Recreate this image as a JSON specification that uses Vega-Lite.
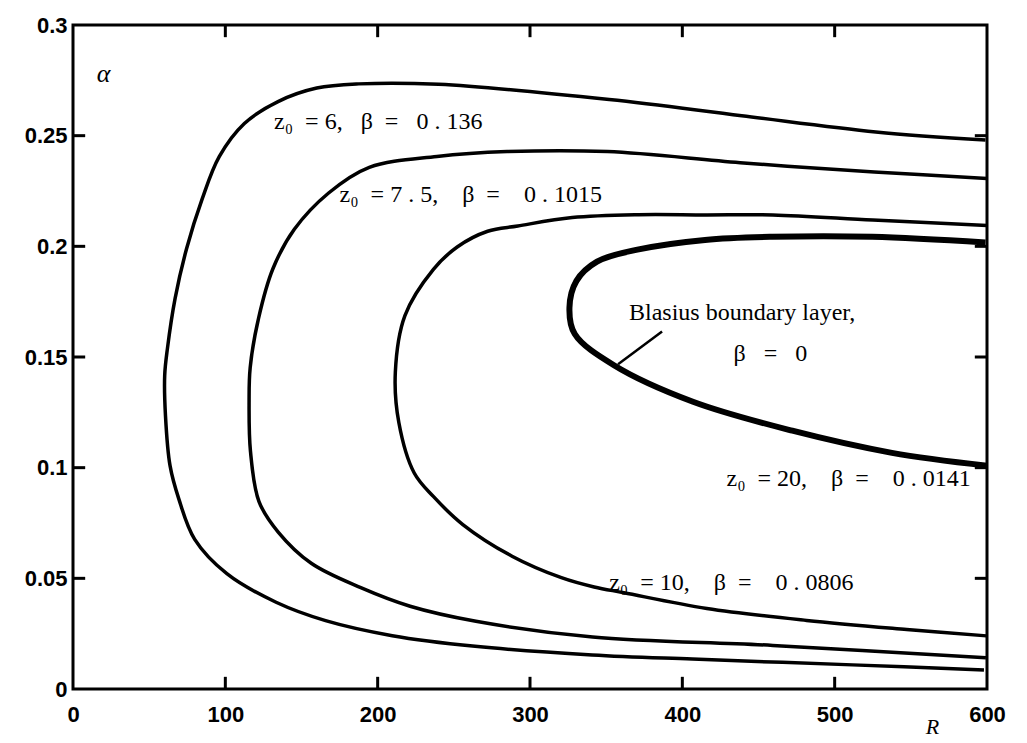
{
  "$schema": "https://vega.github.io/schema/vega-lite/v6.json",
  "width": 914,
  "height": 664,
  "autosize": {"type": "none"},
  "padding": {"left": 73, "top": 25, "right": 40, "bottom": 54},
  "background": "white",
  "config": {
    "view": {"stroke": "black", "strokeWidth": 3},
    "axis": {
      "domain": false,
      "grid": false,
      "ticks": false,
      "labelColor": "black",
      "labelFont": "Liberation Sans",
      "labelFontWeight": "bold",
      "labelFontSize": 22,
      "labelFlush": false,
      "labelOverlap": false
    }
  },
  "datasets": {
    "curves": [
      {"curve": "z6", "i": 1, "R": 599, "alpha": 0.248},
      {"curve": "z6", "i": 2, "R": 527, "alpha": 0.2517},
      {"curve": "z6", "i": 3, "R": 439, "alpha": 0.259},
      {"curve": "z6", "i": 4, "R": 352, "alpha": 0.2663},
      {"curve": "z6", "i": 5, "R": 240, "alpha": 0.2732},
      {"curve": "z6", "i": 6, "R": 187.6, "alpha": 0.2734},
      {"curve": "z6", "i": 7, "R": 160, "alpha": 0.2715},
      {"curve": "z6", "i": 8, "R": 134.6, "alpha": 0.2654},
      {"curve": "z6", "i": 9, "R": 112.5, "alpha": 0.2555},
      {"curve": "z6", "i": 10, "R": 96, "alpha": 0.2405},
      {"curve": "z6", "i": 11, "R": 84.7, "alpha": 0.2212},
      {"curve": "z6", "i": 12, "R": 74.5, "alpha": 0.1988},
      {"curve": "z6", "i": 13, "R": 67, "alpha": 0.1764},
      {"curve": "z6", "i": 14, "R": 62, "alpha": 0.1539},
      {"curve": "z6", "i": 15, "R": 60.2, "alpha": 0.1417},
      {"curve": "z6", "i": 16, "R": 60.7, "alpha": 0.1236},
      {"curve": "z6", "i": 17, "R": 63.7, "alpha": 0.1009},
      {"curve": "z6", "i": 18, "R": 69.5, "alpha": 0.0858},
      {"curve": "z6", "i": 19, "R": 79.9, "alpha": 0.0676},
      {"curve": "z6", "i": 20, "R": 101, "alpha": 0.0521},
      {"curve": "z6", "i": 21, "R": 133.3, "alpha": 0.0392},
      {"curve": "z6", "i": 22, "R": 165.8, "alpha": 0.0309},
      {"curve": "z6", "i": 23, "R": 209.6, "alpha": 0.0241},
      {"curve": "z6", "i": 24, "R": 264, "alpha": 0.0193},
      {"curve": "z6", "i": 25, "R": 340.8, "alpha": 0.0154},
      {"curve": "z6", "i": 26, "R": 406.6, "alpha": 0.0135},
      {"curve": "z6", "i": 27, "R": 511.7, "alpha": 0.0109},
      {"curve": "z6", "i": 28, "R": 598, "alpha": 0.0086},
      {"curve": "z7.5", "i": 1, "R": 600, "alpha": 0.2307},
      {"curve": "z7.5", "i": 2, "R": 526, "alpha": 0.2336},
      {"curve": "z7.5", "i": 3, "R": 438, "alpha": 0.2378},
      {"curve": "z7.5", "i": 4, "R": 350.8, "alpha": 0.2428},
      {"curve": "z7.5", "i": 5, "R": 285, "alpha": 0.2428},
      {"curve": "z7.5", "i": 6, "R": 238.9, "alpha": 0.2406},
      {"curve": "z7.5", "i": 7, "R": 194.5, "alpha": 0.2357},
      {"curve": "z7.5", "i": 8, "R": 167.8, "alpha": 0.2241},
      {"curve": "z7.5", "i": 9, "R": 145.3, "alpha": 0.2077},
      {"curve": "z7.5", "i": 10, "R": 131.3, "alpha": 0.19},
      {"curve": "z7.5", "i": 11, "R": 121.8, "alpha": 0.1675},
      {"curve": "z7.5", "i": 12, "R": 116.3, "alpha": 0.1451},
      {"curve": "z7.5", "i": 13, "R": 115.6, "alpha": 0.1301},
      {"curve": "z7.5", "i": 14, "R": 116.5, "alpha": 0.1074},
      {"curve": "z7.5", "i": 15, "R": 122.1, "alpha": 0.0847},
      {"curve": "z7.5", "i": 16, "R": 134.7, "alpha": 0.0709},
      {"curve": "z7.5", "i": 17, "R": 156.4, "alpha": 0.0568},
      {"curve": "z7.5", "i": 18, "R": 188.9, "alpha": 0.0458},
      {"curve": "z7.5", "i": 19, "R": 221.3, "alpha": 0.0374},
      {"curve": "z7.5", "i": 20, "R": 264.5, "alpha": 0.0306},
      {"curve": "z7.5", "i": 21, "R": 341.1, "alpha": 0.0235},
      {"curve": "z7.5", "i": 22, "R": 459.4, "alpha": 0.0197},
      {"curve": "z7.5", "i": 23, "R": 599.3, "alpha": 0.0141},
      {"curve": "z10", "i": 1, "R": 600, "alpha": 0.2094},
      {"curve": "z10", "i": 2, "R": 525.1, "alpha": 0.2119},
      {"curve": "z10", "i": 3, "R": 459.4, "alpha": 0.2142},
      {"curve": "z10", "i": 4, "R": 415.4, "alpha": 0.2142},
      {"curve": "z10", "i": 5, "R": 371.2, "alpha": 0.2143},
      {"curve": "z10", "i": 6, "R": 327.7, "alpha": 0.213},
      {"curve": "z10", "i": 7, "R": 292, "alpha": 0.2092},
      {"curve": "z10", "i": 8, "R": 272.2, "alpha": 0.2068},
      {"curve": "z10", "i": 9, "R": 252.2, "alpha": 0.1997},
      {"curve": "z10", "i": 10, "R": 236.6, "alpha": 0.1896},
      {"curve": "z10", "i": 11, "R": 217.9, "alpha": 0.1687},
      {"curve": "z10", "i": 12, "R": 211.6, "alpha": 0.1431},
      {"curve": "z10", "i": 13, "R": 213.9, "alpha": 0.1204},
      {"curve": "z10", "i": 14, "R": 224, "alpha": 0.0976},
      {"curve": "z10", "i": 15, "R": 236.7, "alpha": 0.0869},
      {"curve": "z10", "i": 16, "R": 255.9, "alpha": 0.0743},
      {"curve": "z10", "i": 17, "R": 288.2, "alpha": 0.06},
      {"curve": "z10", "i": 18, "R": 320.6, "alpha": 0.0503},
      {"curve": "z10", "i": 19, "R": 342.1, "alpha": 0.0461},
      {"curve": "z10", "i": 20, "R": 361.7, "alpha": 0.0435},
      {"curve": "z10", "i": 21, "R": 416.1, "alpha": 0.0364},
      {"curve": "z10", "i": 22, "R": 481.6, "alpha": 0.031},
      {"curve": "z10", "i": 23, "R": 547.3, "alpha": 0.0269},
      {"curve": "z10", "i": 24, "R": 599.7, "alpha": 0.024},
      {"curve": "blasius", "i": 1, "R": 599, "alpha": 0.2017},
      {"curve": "blasius", "i": 2, "R": 524.7, "alpha": 0.2043},
      {"curve": "blasius", "i": 3, "R": 459, "alpha": 0.2043},
      {"curve": "blasius", "i": 4, "R": 414.9, "alpha": 0.2029},
      {"curve": "blasius", "i": 5, "R": 370.5, "alpha": 0.1985},
      {"curve": "blasius", "i": 6, "R": 344, "alpha": 0.1931},
      {"curve": "blasius", "i": 7, "R": 330.5, "alpha": 0.1844},
      {"curve": "blasius", "i": 8, "R": 325.9, "alpha": 0.1723},
      {"curve": "blasius", "i": 9, "R": 329.4, "alpha": 0.1604},
      {"curve": "blasius", "i": 10, "R": 355.1, "alpha": 0.1463},
      {"curve": "blasius", "i": 11, "R": 407, "alpha": 0.1298},
      {"curve": "blasius", "i": 12, "R": 472.2, "alpha": 0.1167},
      {"curve": "blasius", "i": 13, "R": 537.6, "alpha": 0.1067},
      {"curve": "blasius", "i": 14, "R": 600, "alpha": 0.1009}
    ],
    "tickmarks": [
      {"R": 100, "alpha": 0, "R2": 100, "alpha2": 0.0055},
      {"R": 200, "alpha": 0, "R2": 200, "alpha2": 0.0055},
      {"R": 300, "alpha": 0, "R2": 300, "alpha2": 0.0055},
      {"R": 400, "alpha": 0, "R2": 400, "alpha2": 0.0055},
      {"R": 500, "alpha": 0, "R2": 500, "alpha2": 0.0055},
      {"R": 100, "alpha": 0.3, "R2": 100, "alpha2": 0.2945},
      {"R": 200, "alpha": 0.3, "R2": 200, "alpha2": 0.2945},
      {"R": 300, "alpha": 0.3, "R2": 300, "alpha2": 0.2945},
      {"R": 400, "alpha": 0.3, "R2": 400, "alpha2": 0.2945},
      {"R": 500, "alpha": 0.3, "R2": 500, "alpha2": 0.2945},
      {"R": 0, "alpha": 0.05, "R2": 8, "alpha2": 0.05},
      {"R": 0, "alpha": 0.1, "R2": 8, "alpha2": 0.1},
      {"R": 0, "alpha": 0.15, "R2": 8, "alpha2": 0.15},
      {"R": 0, "alpha": 0.2, "R2": 8, "alpha2": 0.2},
      {"R": 0, "alpha": 0.25, "R2": 8, "alpha2": 0.25},
      {"R": 600, "alpha": 0.05, "R2": 592, "alpha2": 0.05},
      {"R": 600, "alpha": 0.1, "R2": 592, "alpha2": 0.1},
      {"R": 600, "alpha": 0.15, "R2": 592, "alpha2": 0.15},
      {"R": 600, "alpha": 0.2, "R2": 592, "alpha2": 0.2},
      {"R": 600, "alpha": 0.25, "R2": 592, "alpha2": 0.25}
    ],
    "labels": [
      {"label": "z₀\u00a0\u00a0=\u00a06,\u00a0\u00a0\u00a0β\u00a0\u00a0=\u00a0\u00a0\u00a00\u00a0.\u00a0136", "R": 132, "alpha": 0.256},
      {"label": "z₀\u00a0\u00a0=\u00a07\u00a0.\u00a05,\u00a0\u00a0\u00a0\u00a0β\u00a0\u00a0=\u00a0\u00a0\u00a0\u00a00\u00a0.\u00a01015", "R": 175, "alpha": 0.223},
      {"label": "z₀\u00a0\u00a0=\u00a010,\u00a0\u00a0\u00a0\u00a0β\u00a0\u00a0=\u00a0\u00a0\u00a0\u00a00\u00a0.\u00a00806", "R": 352, "alpha": 0.048},
      {"label": "z₀\u00a0\u00a0=\u00a020,\u00a0\u00a0\u00a0\u00a0β\u00a0\u00a0=\u00a0\u00a0\u00a0\u00a00\u00a0.\u00a00141", "R": 429, "alpha": 0.095},
      {"label": "Blasius boundary layer,", "R": 365, "alpha": 0.17},
      {"label": "β\u00a0\u00a0\u00a0=\u00a0\u00a0\u00a00", "R": 433.6, "alpha": 0.1515}
    ],
    "pointer": [
      {"R": 386.7, "alpha": 0.1615, "R2": 357.8, "alpha2": 0.1467}
    ],
    "symbol": [
      {"label": "α", "R": 20, "alpha": 0.278}
    ]
  },
  "resolve": {"axis": {"x": "independent", "y": "independent"}},
  "layer": [
    {
      "data": {"name": "curves"},
      "transform": [{"filter": "datum.curve !== 'blasius'"}],
      "mark": {"type": "line", "stroke": "black", "strokeWidth": 3.5, "interpolate": "catmull-rom"},
      "encoding": {
        "x": {
          "field": "R", "type": "quantitative",
          "scale": {"domain": [0, 600], "nice": false, "zero": false},
          "axis": {
            "orient": "bottom",
            "values": [0, 100, 200, 300, 400, 500, 600],
            "labelPadding": 15,
            "title": "R",
            "titleFont": "Liberation Serif",
            "titleFontStyle": "italic",
            "titleFontWeight": "normal",
            "titleFontSize": 22,
            "titleColor": "black",
            "titleX": 859,
            "titleY": 37,
            "titleAlign": "center",
            "titleBaseline": "middle"
          }
        },
        "y": {
          "field": "alpha", "type": "quantitative",
          "scale": {"domain": [0, 0.3], "nice": false, "zero": false},
          "axis": {
            "orient": "left",
            "values": [0, 0.05, 0.1, 0.15, 0.2, 0.25, 0.3],
            "format": "~g",
            "labelPadding": 6,
            "title": null
          }
        },
        "detail": {"field": "curve"},
        "order": {"field": "i", "type": "quantitative"}
      }
    },
    {
      "data": {"name": "curves"},
      "transform": [{"filter": "datum.curve === 'blasius'"}],
      "mark": {"type": "line", "stroke": "black", "strokeWidth": 6, "interpolate": "catmull-rom"},
      "encoding": {
        "x": {"field": "R", "type": "quantitative", "axis": null},
        "y": {"field": "alpha", "type": "quantitative", "axis": null},
        "detail": {"field": "curve"},
        "order": {"field": "i", "type": "quantitative"}
      }
    },
    {
      "data": {"name": "tickmarks"},
      "mark": {"type": "rule", "stroke": "black", "strokeWidth": 3},
      "encoding": {
        "x": {"field": "R", "type": "quantitative", "axis": null},
        "y": {"field": "alpha", "type": "quantitative", "axis": null},
        "x2": {"field": "R2"},
        "y2": {"field": "alpha2"}
      }
    },
    {
      "data": {"name": "pointer"},
      "mark": {"type": "rule", "stroke": "black", "strokeWidth": 2.5},
      "encoding": {
        "x": {"field": "R", "type": "quantitative", "axis": null},
        "y": {"field": "alpha", "type": "quantitative", "axis": null},
        "x2": {"field": "R2"},
        "y2": {"field": "alpha2"}
      }
    },
    {
      "data": {"name": "labels"},
      "mark": {"type": "text", "align": "left", "baseline": "middle", "font": "Liberation Serif", "fontSize": 24, "color": "black"},
      "encoding": {
        "x": {"field": "R", "type": "quantitative", "axis": null},
        "y": {"field": "alpha", "type": "quantitative", "axis": null},
        "text": {"field": "label"}
      }
    },
    {
      "data": {"name": "symbol"},
      "mark": {"type": "text", "align": "center", "baseline": "middle", "font": "Liberation Serif", "fontStyle": "italic", "fontSize": 26, "color": "black"},
      "encoding": {
        "x": {"field": "R", "type": "quantitative", "axis": null},
        "y": {"field": "alpha", "type": "quantitative", "axis": null},
        "text": {"field": "label"}
      }
    }
  ]
}
